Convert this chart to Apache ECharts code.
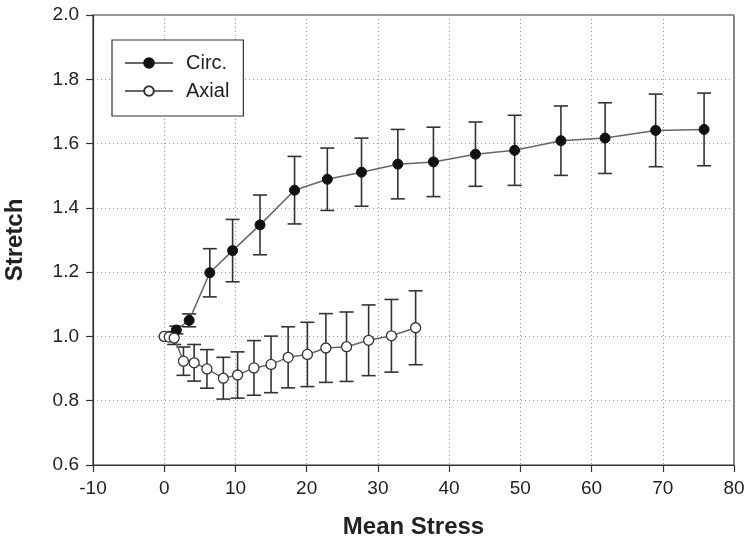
<!DOCTYPE html>
<html>
<head>
<meta charset="utf-8">
<script src="https://cdn.jsdelivr.net/npm/echarts@6/dist/echarts.min.js"></script>
<style>
html,body{margin:0;padding:0;background:#fff;}
#chart{width:750px;height:542px;}
</style>
</head>
<body>
<div id="chart"></div>
<script>
// ---- data ----
var circX   = [0, 1.7, 3.5, 6.4, 9.6, 13.45, 18.3, 22.9, 27.7, 32.8, 37.8, 43.7, 49.2, 55.7, 61.9, 69.0, 75.8];
var circY   = [1.0, 1.02, 1.05, 1.198, 1.267, 1.347, 1.455, 1.489, 1.511, 1.536, 1.543, 1.567, 1.579, 1.609, 1.617, 1.641, 1.644];
var circErr = [0, 0.012, 0.02, 0.075, 0.097, 0.093, 0.105, 0.097, 0.106, 0.108, 0.108, 0.100, 0.109, 0.108, 0.110, 0.113, 0.113];

var axialX   = [0, 0.7, 1.4, 2.7, 4.2, 6.0, 8.3, 10.3, 12.6, 15.0, 17.4, 20.1, 22.7, 25.6, 28.7, 31.9, 35.3];
var axialY   = [1.0, 0.998, 0.995, 0.923, 0.918, 0.899, 0.870, 0.880, 0.902, 0.913, 0.935, 0.944, 0.964, 0.968, 0.988, 1.002, 1.027];
var axialErr = [0, 0, 0.02, 0.044, 0.057, 0.060, 0.065, 0.072, 0.085, 0.088, 0.095, 0.100, 0.107, 0.108, 0.110, 0.113, 0.115];

var xTitle = 'Mean Stress';
var yTitle = 'Stretch';
var seriesNames = ['Circ.', 'Axial'];

// ---- build ----
function pts(xs, ys) { return xs.map(function (x, i) { return [x, ys[i]]; }); }
function errPts(xs, ys, es) { return xs.map(function (x, i) { return [x, ys[i], es[i]]; }); }

function errRender(params, api) {
  var x = api.value(0), y = api.value(1), e = api.value(2);
  if (!e) return null;
  var top = api.coord([x, y + e]);
  var bot = api.coord([x, y - e]);
  var hw = 7;
  var st = { stroke: '#333', lineWidth: 1.6 };
  return {
    type: 'group',
    children: [
      { type: 'line', shape: { x1: top[0], y1: top[1], x2: bot[0], y2: bot[1] }, style: st },
      { type: 'line', shape: { x1: top[0] - hw, y1: top[1], x2: top[0] + hw, y2: top[1] }, style: st },
      { type: 'line', shape: { x1: bot[0] - hw, y1: bot[1], x2: bot[0] + hw, y2: bot[1] }, style: st }
    ]
  };
}

var font = 'Liberation Sans, Arial, sans-serif';
var chart = echarts.init(document.getElementById('chart'), null, { renderer: 'canvas' });
chart.setOption({
  backgroundColor: '#fff',
  animation: false,
  grid: { left: 93, top: 15, right: 16, bottom: 77, outerBoundsMode: 'none', containLabel: false,
          show: true, borderColor: '#333', borderWidth: 1.2, backgroundColor: 'transparent' },
  legend: {
    data: seriesNames,
    orient: 'vertical',
    left: 112, top: 40,
    padding: [11, 14, 13, 12],
    itemGap: 4,
    itemWidth: 48, itemHeight: 12,
    borderColor: '#333', borderWidth: 1.2,
    backgroundColor: '#fff',
    textStyle: { fontFamily: font, fontSize: 20, color: '#222', lineHeight: 24, padding: [0, 0, 0, 8] },
    z: 10
  },
  xAxis: {
    type: 'value', min: -10, max: 80, interval: 10,
    name: xTitle, nameLocation: 'middle', nameGap: 50,
    nameTextStyle: { fontFamily: font, fontSize: 24, fontWeight: 'bold', color: '#222' },
    axisLine: { onZero: false, lineStyle: { color: '#333', width: 1.2 } },
    axisTick: { show: true, inside: false, length: 7, lineStyle: { color: '#333', width: 1.2 } },
    axisLabel: { fontFamily: font, fontSize: 19, color: '#222', margin: 14 },
    splitLine: { show: true, lineStyle: { color: '#999', type: [1, 3], width: 1 } }
  },
  yAxis: {
    type: 'value', min: 0.6, max: 2.0, interval: 0.2,
    name: yTitle, nameLocation: 'middle', nameGap: 66, nameRotate: 90,
    nameTextStyle: { fontFamily: font, fontSize: 24, fontWeight: 'bold', color: '#222' },
    axisLine: { show: true, onZero: false, lineStyle: { color: '#333', width: 1.2 } },
    axisTick: { show: true, inside: false, length: 7, lineStyle: { color: '#333', width: 1.2 } },
    axisLabel: { fontFamily: font, fontSize: 19, color: '#222', margin: 14, formatter: function (v) { return v.toFixed(1); } },
    splitLine: { show: true, lineStyle: { color: '#999', type: [1, 3], width: 1 } }
  },
  series: [
    { type: 'custom', name: 'circErr', renderItem: errRender, data: errPts(circX, circY, circErr), z: 2, silent: true },
    { type: 'custom', name: 'axialErr', renderItem: errRender, data: errPts(axialX, axialY, axialErr), z: 2, silent: true },
    {
      type: 'line', name: seriesNames[0], data: pts(circX, circY),
      symbol: 'circle', symbolSize: 10, showAllSymbol: true,
      lineStyle: { color: '#666', width: 1.5 },
      itemStyle: { color: '#111', borderColor: '#111', borderWidth: 1 },
      z: 3
    },
    {
      type: 'line', name: seriesNames[1], data: pts(axialX, axialY),
      symbol: 'circle', symbolSize: 10, showAllSymbol: true,
      lineStyle: { color: '#666', width: 1.5 },
      itemStyle: { color: '#fff', borderColor: '#333', borderWidth: 1.3 },
      z: 4
    }
  ]
});
</script>
</body>
</html>
